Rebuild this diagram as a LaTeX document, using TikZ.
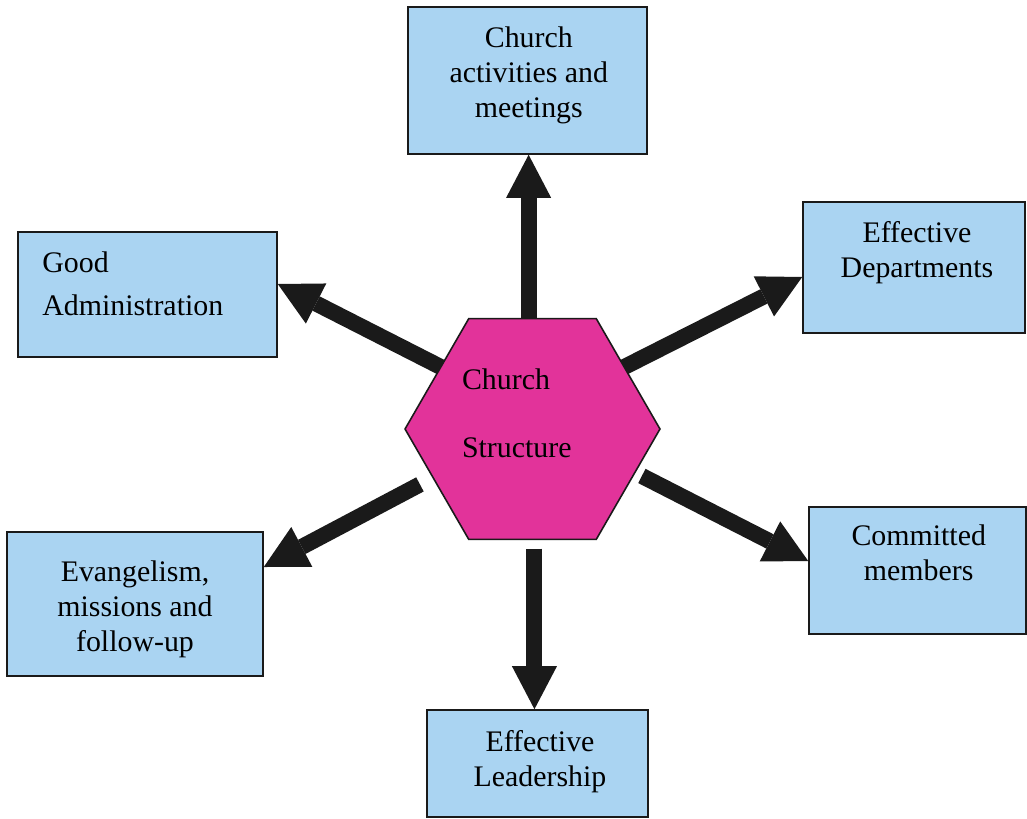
\documentclass[tikz,border=0pt]{standalone}
\usepackage{fontspec}
\setmainfont{Liberation Serif}
\usetikzlibrary{arrows.meta,shapes.geometric,backgrounds}
\definecolor{churchblue}{HTML}{AAD4F2}
\definecolor{churchpink}{HTML}{E2339A}
\definecolor{churchink}{HTML}{1A1A1A}
\begin{document}
\begin{tikzpicture}[x=0.02cm,y=-0.02cm,
  goal/.style={draw=churchink,line width=0.9pt,fill=churchblue,inner sep=0pt},
  goaltext/.style={anchor=north,inner sep=0pt,align=center,font=\fontsize{17}{19.9}\selectfont},
  hub/.style={regular polygon,regular polygon sides=6,minimum size=5.1cm,inner sep=0pt,draw=churchink,line width=0.9pt,fill=churchpink},
  fat/.style={line width=0.32cm,draw=churchink,-{Triangle[length=0.86cm,width=0.9cm,line width=0pt]}}
]
\useasboundingbox (0,0) rectangle (1027,818);
% goal boxes round the hub
\node[goal,minimum width=4.78cm,minimum height=2.94cm] (top) at (527.5,80.5) {};
\node[goal,minimum width=4.44cm,minimum height=2.62cm] (rup) at (914,267.5) {};
\node[goal,minimum width=5.18cm,minimum height=2.5cm] (lup) at (147.5,294.5) {};
\node[goal,minimum width=4.34cm,minimum height=2.54cm] (rlo) at (917.5,570.5) {};
\node[goal,minimum width=5.12cm,minimum height=2.88cm] (llo) at (135,604) {};
\node[goal,minimum width=4.42cm,minimum height=2.14cm] (bot) at (537.5,763.5) {};
\node[goaltext] (topt) at (528.8,26.5) {Church\\activities and\\meetings};
\node[goaltext] (rupt) at (917,221.5) {Effective\\Departments};
\node[goaltext,anchor=north west,align=left,font=\fontsize{17}{24.7}\selectfont] (lupt) at (42,251) {Good\\Administration};
\node[goaltext] (rlot) at (918.7,524.7) {Committed\\members};
\node[goaltext] (llot) at (135,560) {Evangelism,\\missions and\\follow-up};
\node[goaltext] (bott) at (540,730) {Effective\\Leadership};
% hub
\node[hub] (hex) at (532.5,429) {};
\node[goaltext,anchor=north west,align=left,font=\fontsize{17}{39.2}\selectfont] (hext) at (461.7,368) {Church\\Structure};
% fat arrows under the hub
\begin{scope}[on background layer]
\draw[fat,shorten <=-0.2cm] (hex.92) -- (hex.92 |- top.south);
\draw[fat,shorten <=-0.2cm] (hex.34) -- ([yshift=-0.19cm]rup.west);
\draw[fat,shorten <=-0.2cm] (hex.146) -- ([yshift=0.21cm]lup.east);
\draw[fat,shorten <=0.14cm] (hex.-23) -- ([yshift=0.19cm]rlo.west);
\draw[fat,shorten <=0.28cm] (hex.206) -- ([yshift=0.74cm]llo.east);
\draw[fat,shorten <=0.17cm] (hex.-89) -- (hex.-89 |- bot.north);
\end{scope}
\end{tikzpicture}
\end{document}
